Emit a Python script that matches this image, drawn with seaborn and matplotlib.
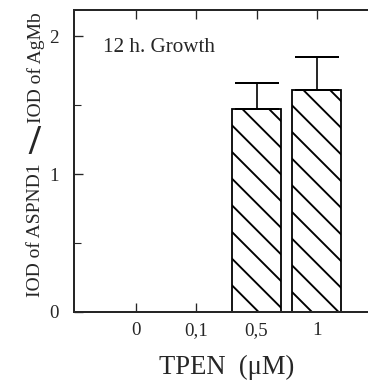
import matplotlib
matplotlib.use("Agg")
import matplotlib.pyplot as plt
import seaborn as sns
import numpy as np
import pandas as pd

# data
tpen = ["0", "0,1", "0,5", "1"]
ratio = [0.0, 0.0, 1.47, 1.61]
err_up = [0.0, 0.0, 0.19, 0.24]

sns.set_style("ticks")
plt.rcParams["font.family"] = ["Liberation Serif", "DejaVu Serif"]
plt.rcParams["hatch.linewidth"] = 1.7
plt.rcParams["hatch.color"] = "black"

DPI = 80
fig = plt.figure(figsize=(368 / DPI, 380 / DPI), dpi=DPI)
ax = fig.add_axes([74 / 368, 1 - 312 / 380, 1 - 74 / 368, (312 - 10) / 380])

df = pd.DataFrame({"tpen": tpen, "ratio": ratio})
sns.barplot(data=df, x="tpen", y="ratio", order=tpen, ax=ax, errorbar=None,
            width=0.81, color="white", edgecolor="black", linewidth=1.6)
for p in ax.patches:
    p.set_hatch("\\")
    p.set_facecolor("white")

# error bars (upper only)
idx = [i for i, v in enumerate(ratio) if v > 0]
ax.errorbar(idx, [ratio[i] for i in idx],
            yerr=[[0] * len(idx), [err_up[i] for i in idx]],
            fmt="none", ecolor="black", elinewidth=1.5, capsize=20, capthick=1.8)

ax.set_xlim(-1.03, 3.85)
ax.set_ylim(0, 2.19)
ax.set_yticks([0, 1, 2])
ax.set_yticks([0.5, 1.5], minor=True)
ax.tick_params(axis="both", which="major", direction="in", length=8, width=1.2,
               labelsize=17)
ax.tick_params(axis="x", pad=9)
ax.tick_params(axis="y", pad=14)
ax.tick_params(axis="y", which="minor", direction="in", length=6, width=1.0)
ax.tick_params(axis="x", top=True)
ax.tick_params(axis="y", left=True, right=False)
for s in ["left", "bottom", "top"]:
    ax.spines[s].set_linewidth(1.8)
ax.spines["right"].set_visible(False)

ax.set_xlabel("TPEN  (\u03bcM)", fontsize=24, labelpad=14)
ax.xaxis.label.set_x((227 - 74) / 294)
ax.set_ylabel("")

ax.text(103 / 368, 1 - 52 / 380, "12 h. Growth", transform=fig.transFigure,
        fontsize=19, ha="left", va="baseline")

# y label in three parts with heavy slash
fig.text(36 / 368, 1 - 230 / 380, "IOD of ASPND1", rotation=90, fontsize=17.5,
         ha="center", va="center")
fig.text(34 / 368, 1 - 144 / 380, "/", rotation=0, fontsize=38, fontweight="bold",
         ha="center", va="center")
fig.text(36 / 368, 1 - 68 / 380, "IOD of AgMb", rotation=90, fontsize=17.5,
         ha="center", va="center")

plt.savefig("out.png", dpi=DPI)
